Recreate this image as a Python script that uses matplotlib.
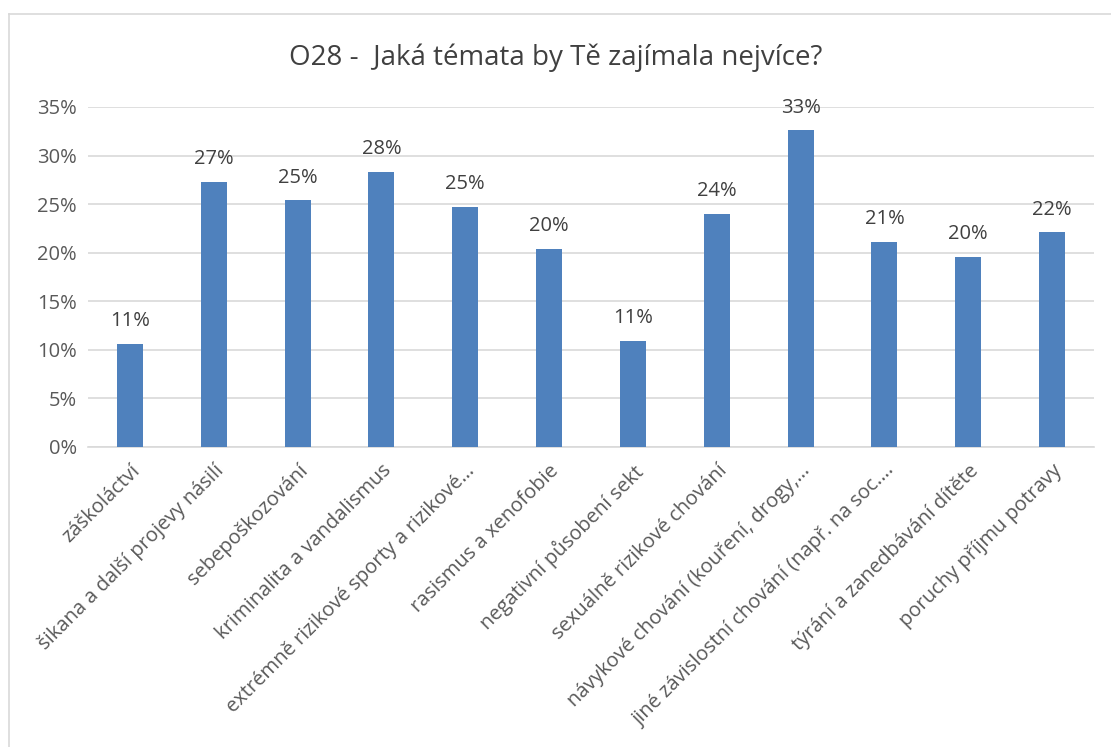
import numpy as np
import matplotlib.pyplot as plt
from matplotlib.lines import Line2D

plt.rcParams['font.family'] = ['Open Sans', 'DejaVu Sans']

categories = [
    "záškoláctví",
    "šikana a další projevy násilí",
    "sebepoškozování",
    "kriminalita a vandalismus",
    "extrémně rizikové sporty a rizikové…",
    "rasismus a xenofobie",
    "negativní působení sekt",
    "sexuálně rizikové chování",
    "návykové chování (kouření, drogy,…",
    "jiné závislostní chování (např. na soc.…",
    "týrání a zanedbávání dítěte",
    "poruchy příjmu potravy",
]
values = [10.6, 27.3, 25.4, 28.3, 24.7, 20.4, 10.9, 24.0, 32.6, 21.1, 19.6, 22.1]
yticks = [0, 5, 10, 15, 20, 25, 30, 35]

fig = plt.figure(figsize=(11.11, 7.47), dpi=100)
ax = fig.add_axes([88 / 1111, 1 - 447 / 747, 1006 / 1111, 340 / 747])

x = np.arange(len(categories))
ax.bar(x, values, width=0.31, color='#4F81BD', zorder=3)

for xi, v in zip(x, values):
    ax.text(xi, v + 1.3, f"{round(v):.0f}%", ha='center', va='bottom',
            fontsize=14.5, color='#404040')

ax.set_xlim(-0.5, len(categories) - 0.5)
ax.set_ylim(0, 35)
ax.set_yticks(yticks)
ax.set_yticklabels([f"{t}%" for t in yticks], fontsize=14.5, color='#595959')
ax.yaxis.grid(True, color='#D9D9D9', linewidth=1.2, zorder=0)
ax.tick_params(axis='both', length=0, pad=8)
ax.set_xticks(x)
ax.set_xticklabels(categories, rotation=45, ha='right', rotation_mode='anchor',
                   fontsize=14.5, color='#595959')
ax.tick_params(axis='x', pad=10)
for s in ['top', 'right', 'left']:
    ax.spines[s].set_visible(False)
ax.spines['bottom'].set_color('#D9D9D9')
ax.spines['bottom'].set_linewidth(1.2)

fig.text(0.5, 1 - 58 / 747, "O28 -  Jaká témata by Tě zajímala nejvíce?",
         ha='center', va='center', fontsize=20, color='#404040')

# chart area border (only top and left visible in the crop)
fig.add_artist(Line2D([9 / 1111, 9 / 1111], [0, 1 - 14 / 747], transform=fig.transFigure,
                      color='#D9D9D9', linewidth=1.2))
fig.add_artist(Line2D([9 / 1111, 1], [1 - 14 / 747, 1 - 14 / 747], transform=fig.transFigure,
                      color='#D9D9D9', linewidth=1.2))

fig.savefig('out.png', dpi=100)
